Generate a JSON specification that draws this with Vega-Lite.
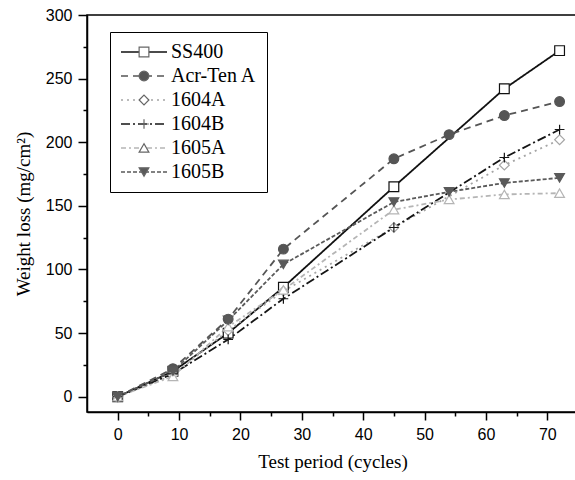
{
  "$schema": "https://vega.github.io/schema/vega-lite/v6.json",
  "width": 491,
  "height": 397,
  "autosize": "none",
  "padding": {"left": 87, "top": 15, "right": 0, "bottom": 68},
  "background": "white",
  "config": {
    "view": {"stroke": "black", "strokeWidth": 1.5},
    "axis": {
      "grid": false,
      "domainColor": "black",
      "domainWidth": 1.5,
      "tickColor": "black",
      "tickWidth": 1.5,
      "labelColor": "black",
      "labelFont": "Liberation Sans",
      "labelFontSize": 16,
      "titleColor": "black",
      "titleFont": "Liberation Serif",
      "titleFontSize": 19,
      "titleFontWeight": "normal"
    },
    "legend": {
      "labelFont": "Liberation Serif",
      "labelFontSize": 20,
      "labelColor": "black",
      "labelLimit": 300
    }
  },
  "data": {
    "values": [
      {"cycles": 0, "loss": 0, "series": "SS400"},
      {"cycles": 9, "loss": 20, "series": "SS400"},
      {"cycles": 18, "loss": 50, "series": "SS400"},
      {"cycles": 27, "loss": 86, "series": "SS400"},
      {"cycles": 45, "loss": 165, "series": "SS400"},
      {"cycles": 63, "loss": 242, "series": "SS400"},
      {"cycles": 72, "loss": 272, "series": "SS400"},
      {"cycles": 0, "loss": 0, "series": "Acr-Ten A"},
      {"cycles": 9, "loss": 22, "series": "Acr-Ten A"},
      {"cycles": 18, "loss": 61, "series": "Acr-Ten A"},
      {"cycles": 27, "loss": 116, "series": "Acr-Ten A"},
      {"cycles": 45, "loss": 187, "series": "Acr-Ten A"},
      {"cycles": 54, "loss": 206, "series": "Acr-Ten A"},
      {"cycles": 63, "loss": 221, "series": "Acr-Ten A"},
      {"cycles": 72, "loss": 232, "series": "Acr-Ten A"},
      {"cycles": 0, "loss": 0, "series": "1604A"},
      {"cycles": 9, "loss": 17, "series": "1604A"},
      {"cycles": 18, "loss": 52, "series": "1604A"},
      {"cycles": 27, "loss": 83, "series": "1604A"},
      {"cycles": 45, "loss": 133, "series": "1604A"},
      {"cycles": 63, "loss": 182, "series": "1604A"},
      {"cycles": 72, "loss": 202, "series": "1604A"},
      {"cycles": 0, "loss": 0, "series": "1604B"},
      {"cycles": 9, "loss": 18, "series": "1604B"},
      {"cycles": 18, "loss": 45, "series": "1604B"},
      {"cycles": 27, "loss": 77, "series": "1604B"},
      {"cycles": 45, "loss": 133, "series": "1604B"},
      {"cycles": 63, "loss": 188, "series": "1604B"},
      {"cycles": 72, "loss": 210, "series": "1604B"},
      {"cycles": 0, "loss": 0, "series": "1605A"},
      {"cycles": 9, "loss": 16, "series": "1605A"},
      {"cycles": 18, "loss": 55, "series": "1605A"},
      {"cycles": 27, "loss": 84, "series": "1605A"},
      {"cycles": 45, "loss": 147, "series": "1605A"},
      {"cycles": 54, "loss": 155, "series": "1605A"},
      {"cycles": 63, "loss": 159, "series": "1605A"},
      {"cycles": 72, "loss": 160, "series": "1605A"},
      {"cycles": 0, "loss": 0, "series": "1605B"},
      {"cycles": 9, "loss": 20, "series": "1605B"},
      {"cycles": 18, "loss": 60, "series": "1605B"},
      {"cycles": 27, "loss": 104, "series": "1605B"},
      {"cycles": 45, "loss": 153, "series": "1605B"},
      {"cycles": 54, "loss": 161, "series": "1605B"},
      {"cycles": 63, "loss": 168, "series": "1605B"},
      {"cycles": 72, "loss": 172, "series": "1605B"}
    ]
  },
  "encoding": {
    "x": {
      "field": "cycles",
      "type": "quantitative",
      "scale": {"domain": [-5, 75], "nice": false, "zero": false},
      "axis": {
        "title": "Test period (cycles)",
        "values": [0, 5, 10, 15, 20, 25, 30, 35, 40, 45, 50, 55, 60, 65, 70],
        "labelExpr": "datum.value % 10 === 0 ? datum.label : ''",
        "tickSize": {"condition": {"test": "datum.value % 10 === 0", "value": 8}, "value": 4},
        "labelPadding": 6,
        "titlePadding": 10
      }
    },
    "y": {
      "field": "loss",
      "type": "quantitative",
      "scale": {"domain": [-12, 300], "nice": false, "zero": false},
      "axis": {
        "title": "Weight loss (mg/cm²)",
        "values": [0, 25, 50, 75, 100, 125, 150, 175, 200, 225, 250, 275, 300],
        "labelExpr": "datum.value % 50 === 0 ? datum.label : ''",
        "tickSize": {"condition": {"test": "datum.value % 50 === 0", "value": 9}, "value": 4},
        "labelPadding": 6,
        "titlePadding": 12
      }
    }
  },
  "layer": [
    {
      "mark": {"type": "line", "strokeWidth": 1.8},
      "encoding": {
        "stroke": {
          "field": "series",
          "type": "nominal",
          "scale": {
            "domain": ["SS400", "Acr-Ten A", "1604A", "1604B", "1605A", "1605B"],
            "range": ["#111111", "#555555", "#a5a5a5", "#151515", "#b5b5b5", "#5a5a5a"]
          },
          "legend": {
            "orient": "none",
            "legendX": 23,
            "legendY": 17,
            "title": null,
            "fillColor": "white",
            "strokeColor": "black",
            "symbolType": "stroke",
            "symbolSize": 2116,
            "symbolStrokeWidth": 1.5,
            "padding": 10,
            "rowPadding": 4,
            "clipHeight": 20,
            "labelOffset": 3
          }
        },
        "strokeDash": {
          "field": "series",
          "type": "nominal",
          "scale": {
            "domain": ["SS400", "Acr-Ten A", "1604A", "1604B", "1605A", "1605B"],
            "range": [[1, 0], [7, 5], [2, 4], [9, 3, 2, 3], [5, 3, 2, 3], [4, 2]]
          }
        }
      }
    },
    {
      "mark": {"type": "point", "filled": true, "opacity": 1, "strokeWidth": 1.2, "size": 95},
      "encoding": {
        "color": {
          "field": "series",
          "type": "nominal",
          "sort": null,
          "scale": {"range": ["white", "#555555", "white", "white", "white", "#5a5a5a"]},
          "legend": {
            "orient": "none",
            "legendX": 37,
            "legendY": 17,
            "title": null,
            "symbolSize": 95,
            "symbolStrokeWidth": 1.2,
            "symbolStrokeColor": "#666666",
            "labelOpacity": 0,
            "padding": 10,
            "rowPadding": 4,
            "clipHeight": 20
          }
        },
        "shape": {
          "field": "series",
          "type": "nominal",
          "sort": null,
          "scale": {"range": ["square", "circle", "diamond", "M-1,0L1,0M0,-1L0,1", "triangle-up", "triangle-down"]}
        },
        "stroke": {
          "field": "series",
          "type": "nominal"
        }
      }
    }
  ]
}
